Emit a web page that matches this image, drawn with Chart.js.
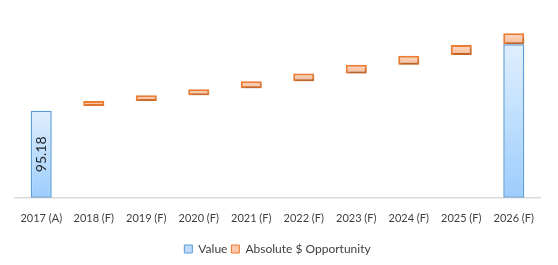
<!DOCTYPE html>
<html>
<head>
<meta charset="utf-8">
<script src="https://cdn.jsdelivr.net/npm/chart.js@4/dist/chart.umd.min.js"></script>
<style>
  html, body { margin: 0; padding: 0; background: #ffffff; }
  #wrap { width: 558px; height: 265px; }
</style>
</head>
<body>
<div id="wrap"><canvas id="chart"></canvas></div>
<script>
// waterfall: value bars + floating opportunity bars

const CATEGORIES = [ '2017 (A)', '2018 (F)', '2019 (F)', '2020 (F)', '2021 (F)',
  '2022 (F)', '2023 (F)', '2024 (F)', '2025 (F)', '2026 (F)' ];

const VALUE_BARS = [ 95.18, null, null, null, null, null, null, null, null, 168.1 ];

const OPPORTUNITY_LOW = [ null, 100.5, 105.9, 112.3, 119.9, 127.4, 135.9, 145.6, 156.3, 168.1 ];
const OPPORTUNITY_HIGH = [ null, 105.9, 112.3, 118.8, 127.4, 135.9, 145.6, 155.3, 167.1, 179.9 ];

const VALUE_LABELS = [ '95.18', null, null, null, null, null, null, null, null, null ];

const FONT = 'Lato, "Open Sans", sans-serif';

function to_range( lo, hi ) {
  return lo.map( ( x, i ) => ( x == null || hi[ i ] == null ) ? null : [ x, hi[ i ] ] );
}

function bar_gradient( context, top_color, bottom_color, fallback ) {
  var chart = context.chart;
  var raw = context.raw;
  if ( !chart.chartArea || !raw ) {
    return fallback;
  }
  var y = chart.scales.y;
  var y_top = y.getPixelForValue( raw[ 1 ] );
  var y_bot = y.getPixelForValue( raw[ 0 ] );
  if ( !isFinite( y_top ) || !isFinite( y_bot ) || y_top == y_bot ) {
    return fallback;
  }
  var g = chart.ctx.createLinearGradient( 0, y_top, 0, y_bot );
  g.addColorStop( 0, top_color );
  g.addColorStop( 1, bottom_color );
  return g;
}

const shadow_plugin = {
  id: 'shadow_plugin',
  beforeDatasetDraw( chart, args ) {
    if ( args.index == 1 ) {
      var ctx = chart.ctx;
      ctx.save();
      ctx.shadowColor = 'rgba(0,0,0,0.28)';
      ctx.shadowBlur = 3;
      ctx.shadowOffsetX = 1;
      ctx.shadowOffsetY = 2;
    }
  },
  afterDatasetDraw( chart, args ) {
    if ( args.index == 1 ) {
      chart.ctx.restore();
    }
  }
};

const value_label_plugin = {
  id: 'value_label_plugin',
  afterDatasetsDraw( chart ) {
    var ctx = chart.ctx;
    var meta = chart.getDatasetMeta( 0 );
    meta.data.forEach( ( bar, i ) => {
      if ( !VALUE_LABELS[ i ] ) return;
      var p = bar.getProps( [ 'x', 'y', 'base' ], true );
      ctx.save();
      ctx.translate( p.x, ( p.y + p.base ) / 2 );
      ctx.rotate( -Math.PI / 2 );
      ctx.font = '14px ' + FONT;
      ctx.fillStyle = '#262626';
      ctx.textAlign = 'center';
      ctx.textBaseline = 'middle';
      ctx.fillText( VALUE_LABELS[ i ], 0, 0 );
      ctx.restore();
    } );
  }
};

var ctx = document.getElementById( 'chart' ).getContext( '2d' );
var chart = new Chart( ctx, {
  type: 'bar',
  data: {
    labels: CATEGORIES,
    datasets: [
      {
        label: 'Value',
        data: VALUE_BARS.map( v => v == null ? null : [ 0, v ] ),
        backgroundColor: c => bar_gradient( c, '#e0effe', '#9ccdfd', '#bddcfb' ),
        borderColor: '#5b9bd5',
        borderWidth: 1.5,
        borderSkipped: false,
        grouped: false,
        barPercentage: 0.4,
        categoryPercentage: 1.0,
        order: 2
      },
      {
        label: 'Absolute $ Opportunity',
        data: to_range( OPPORTUNITY_LOW, OPPORTUNITY_HIGH ),
        backgroundColor: c => bar_gradient( c, '#fed9c6', '#fbb994', '#fbc8ab' ),
        borderColor: '#ed7d31',
        borderWidth: 2,
        borderSkipped: false,
        grouped: false,
        barPercentage: 0.4,
        categoryPercentage: 1.0,
        order: 1
      }
    ]
  },
  options: {
    responsive: true,
    maintainAspectRatio: false,
    animation: false,
    layout: {
      padding: { top: 15, left: 15, right: 18, bottom: 0 }
    },
    scales: {
      x: {
        grid: { display: false, drawTicks: false },
        border: { color: '#d9d9d9', width: 1.5 },
        ticks: {
          color: '#404040',
          font: { family: FONT, size: 11 },
          padding: 14,
          maxRotation: 0,
          autoSkip: false
        }
      },
      y: {
        display: false,
        min: 0,
        max: 200
      }
    },
    plugins: {
      tooltip: { enabled: false },
      legend: {
        position: 'bottom',
        labels: {
          boxWidth: 8,
          boxHeight: 8,
          padding: 4,
          color: '#404040',
          font: { family: FONT, size: 12 },
          generateLabels: function ( ch ) {
            return [
              { text: 'Value', fillStyle: '#bddcfb', strokeStyle: '#5b9bd5', lineWidth: 1, datasetIndex: 0, fontColor: '#404040' },
              { text: 'Absolute $ Opportunity', fillStyle: '#fbc8ab', strokeStyle: '#ed7d31', lineWidth: 1, datasetIndex: 1, fontColor: '#404040' }
            ];
          }
        }
      }
    }
  },
  plugins: [ shadow_plugin, value_label_plugin ]
} );
</script>
</body>
</html>
